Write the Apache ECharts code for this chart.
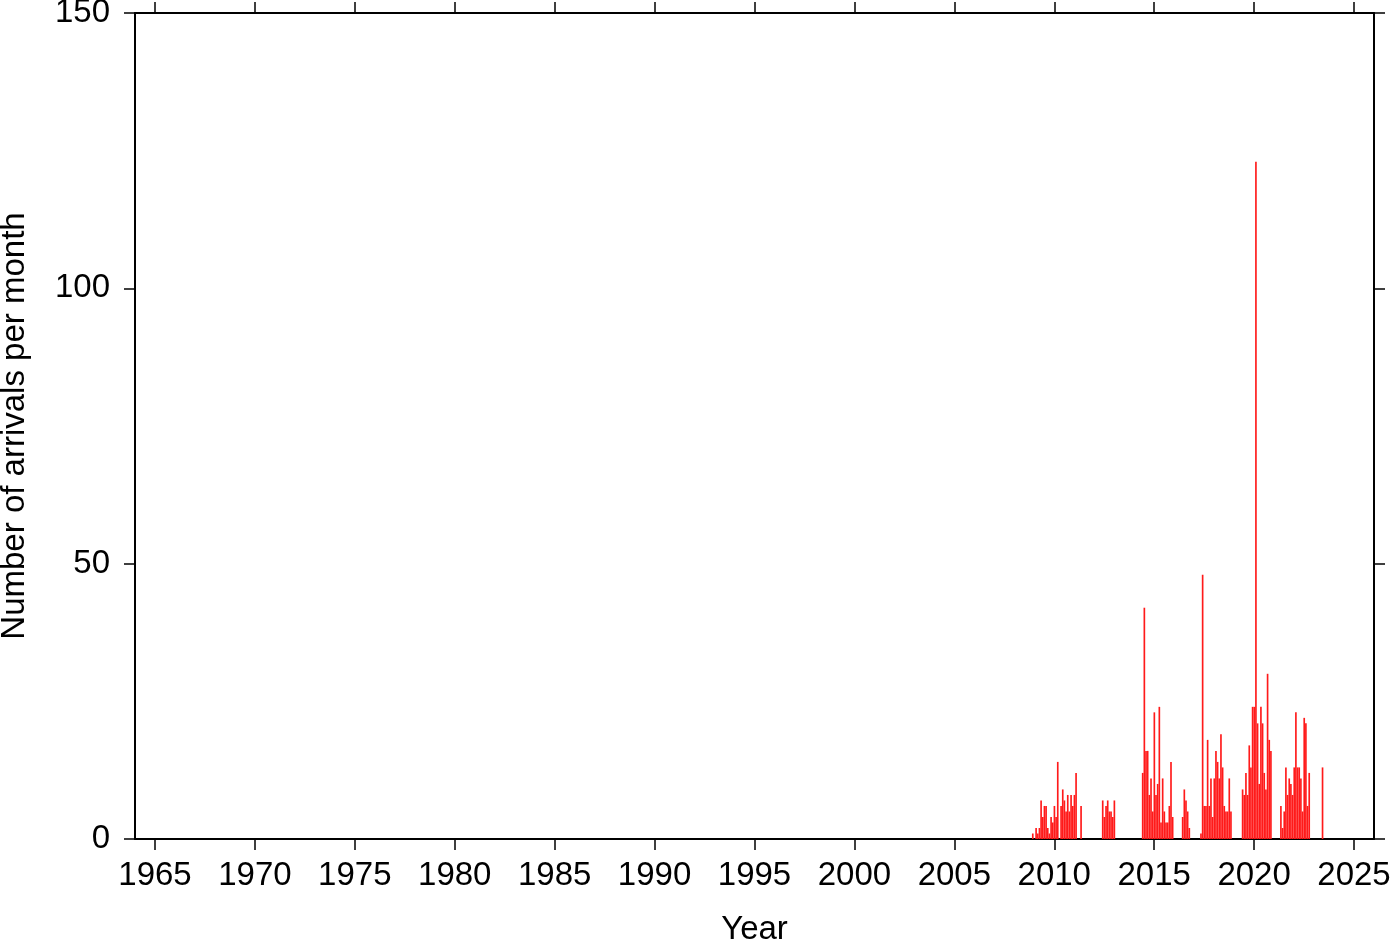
<!DOCTYPE html>
<html>
<head>
<meta charset="utf-8">
<script src="https://cdn.jsdelivr.net/npm/echarts@6/dist/echarts.min.js"></script>
<style>
html,body{margin:0;padding:0;background:#fff;}
#chart{width:1400px;height:942px;}
</style>
</head>
<body>
<div id="chart"></div>
<script>
// Monthly arrival counts (Jan..Dec) per year
const years = [2008, 2009, 2010, 2011, 2012, 2013, 2014, 2015, 2016, 2017, 2018, 2019, 2020, 2021, 2022, 2023];
const arr2008 = [0,0,0,0,0,0,0,0,0,0,0,1];
const arr2009 = [0,2,1,2,7,4,6,6,2,1,4,3];
const arr2010 = [6,4,14,0,6,9,7,5,8,5,8,6];
const arr2011 = [8,12,0,0,6,0,0,0,0,0,0,0];
const arr2012 = [0,0,0,0,0,7,4,6,7,5,5,4];
const arr2013 = [7,0,0,0,0,0,0,0,0,0,0,0];
const arr2014 = [0,0,0,0,0,12,42,16,16,8,11,5];
const arr2015 = [23,8,10,24,3,11,5,3,3,6,14,4];
const arr2016 = [0,0,0,0,0,4,9,7,5,2,0,0];
const arr2017 = [0,0,0,0,1,48,6,6,18,6,11,4];
const arr2018 = [11,16,14,11,19,13,6,5,5,11,5,0];
const arr2019 = [0,0,0,0,0,9,8,12,8,17,13,24];
const arr2020 = [24,123,21,10,24,21,12,9,30,18,16,0];
const arr2021 = [0,0,0,0,6,2,5,13,8,11,10,8];
const arr2022 = [13,23,13,13,11,5,22,21,6,12,0,0];
const arr2023 = [0,0,0,0,0,13,0,0,0,0,0,0];
const yearTicks = [1965,1970,1975,1980,1985,1990,1995,2000,2005,2010,2015,2020,2025];
const countTicks = [0,50,100,150];

const monthly = [arr2008,arr2009,arr2010,arr2011,arr2012,arr2013,arr2014,arr2015,arr2016,arr2017,arr2018,arr2019,arr2020,arr2021,arr2022,arr2023];
const data = [];
years.forEach((y, i) => {
  monthly[i].forEach((v, m) => { if (v > 0) data.push([y + m / 12, v]); });
});

const FONT = 'Liberation Sans, Arial, Helvetica, sans-serif';
const FS = 33;
const chart = echarts.init(document.getElementById('chart'), null, {renderer: 'canvas'});
const lineStyle = {color: '#000', width: 2};
const tickStyle = {color: '#000', width: 1.5};
chart.setOption({
  animation: false,
  backgroundColor: '#fff',
  grid: {left: 135, top: 13, right: 26, bottom: 103, containLabel: false, outerBoundsMode: 'none'},
  xAxis: [{
    type: 'value', min: 1964, max: 2026, position: 'bottom',
    name: 'Year', nameLocation: 'middle', nameGap: 74,
    nameTextStyle: {fontFamily: FONT, fontSize: FS, color: '#000'},
    axisLine: {show: true, onZero: false, lineStyle: lineStyle},
    axisTick: {show: true, inside: false, length: 11, lineStyle: tickStyle, customValues: yearTicks},
    axisLabel: {show: true, margin: 20, fontFamily: FONT, fontSize: FS, color: '#000', customValues: yearTicks,
      formatter: v => String(v)},
    splitLine: {show: false}
  }, {
    type: 'value', min: 1964, max: 2026, position: 'top',
    axisLine: {show: true, onZero: false, lineStyle: lineStyle},
    axisTick: {show: true, inside: false, length: 11, lineStyle: tickStyle, customValues: yearTicks},
    axisLabel: {show: false},
    splitLine: {show: false}
  }],
  yAxis: [{
    type: 'value', min: 0, max: 150, interval: 50, position: 'left',
    name: 'Number of arrivals per month', nameLocation: 'middle', nameGap: 104, nameRotate: 90,
    nameTextStyle: {fontFamily: FONT, fontSize: FS, color: '#000'},
    axisLine: {show: true, onZero: false, lineStyle: lineStyle},
    axisTick: {show: true, inside: false, length: 11, lineStyle: tickStyle},
    axisLabel: {show: true, margin: 25, fontFamily: FONT, fontSize: FS, color: '#000', customValues: countTicks},
    splitLine: {show: false}
  }, {
    type: 'value', min: 0, max: 150, interval: 50, position: 'right',
    axisLine: {show: true, onZero: false, lineStyle: lineStyle},
    axisTick: {show: true, inside: false, length: 11, lineStyle: tickStyle},
    axisLabel: {show: false},
    splitLine: {show: false}
  }],
  series: [{
    type: 'custom',
    xAxisIndex: 0, yAxisIndex: 0,
    data: data,
    clip: true,
    renderItem: function (params, api) {
      const x = api.value(0), v = api.value(1);
      const p0 = api.coord([x - 0.4 / 12, 0]);
      const p1 = api.coord([x + 0.6 / 12, v]);
      return {
        type: 'rect',
        shape: {x: p0[0], y: p1[1], width: p1[0] - p0[0], height: p0[1] - p1[1]},
        style: {fill: '#ff1a1a'}
      };
    }
  }]
});
</script>
</body>
</html>
